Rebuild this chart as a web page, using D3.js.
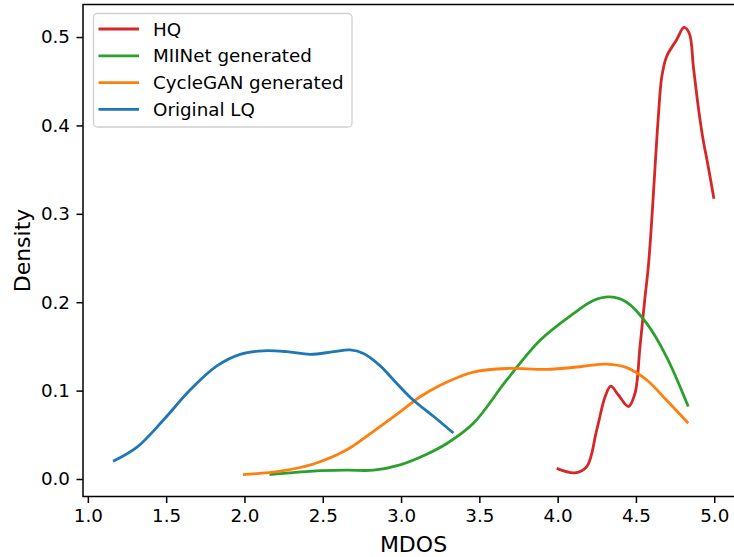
<!DOCTYPE html>
<html>
<head>
<meta charset="utf-8">
<script src="https://cdn.jsdelivr.net/npm/d3@7"></script>
<style>
  body { margin: 0; background: #fff; overflow: hidden; }
  text { font-family: "DejaVu Sans", sans-serif; fill: #000; }
</style>
</head>
<body>
<div id="chart"></div>
<script>
// density curves: [MDOS, density]
const hq = [[3.994,0.012],[4.111,0.007],[4.186,0.014],[4.249,0.055],[4.303,0.093],[4.339,0.105],[4.388,0.095],[4.452,0.082],[4.494,0.097],[4.526,0.150],[4.558,0.206],[4.579,0.240],[4.601,0.293],[4.622,0.353],[4.643,0.410],[4.665,0.455],[4.696,0.478],[4.760,0.497],[4.807,0.511],[4.841,0.504],[4.867,0.466],[4.898,0.421],[4.926,0.387],[4.962,0.353],[4.998,0.317]];
const miinet = [[2.160,0.005],[2.441,0.009],[2.654,0.010],[2.824,0.010],[2.994,0.016],[3.164,0.028],[3.300,0.041],[3.462,0.063],[3.675,0.112],[3.888,0.157],[4.100,0.187],[4.228,0.202],[4.335,0.206],[4.441,0.200],[4.569,0.176],[4.696,0.138],[4.834,0.082]];
const cyclegan = [[1.990,0.005],[2.229,0.009],[2.441,0.017],[2.654,0.033],[2.824,0.054],[2.994,0.076],[3.122,0.093],[3.250,0.106],[3.377,0.116],[3.462,0.121],[3.675,0.125],[3.930,0.124],[4.143,0.127],[4.313,0.130],[4.441,0.126],[4.569,0.112],[4.696,0.089],[4.834,0.063]];
const originalLq = [[1.161,0.020],[1.314,0.036],[1.484,0.067],[1.654,0.101],[1.824,0.128],[1.973,0.141],[2.122,0.145],[2.271,0.144],[2.420,0.141],[2.569,0.144],[2.675,0.146],[2.760,0.142],[2.867,0.128],[2.973,0.108],[3.079,0.089],[3.207,0.071],[3.334,0.052]];

const seriesNames = ["HQ", "MIINet generated", "CycleGAN generated", "Original LQ"];
const seriesColors = ["#d62728", "#2ca02c", "#ff7f0e", "#1f77b4"];
const xTicks = [1.0, 1.5, 2.0, 2.5, 3.0, 3.5, 4.0, 4.5, 5.0];
const yTicks = [0.0, 0.1, 0.2, 0.3, 0.4, 0.5];

class DensityChart {
    constructor(option) {
        for (let [key, value] of Object.entries(option)) {
            this[key] = value;
        }
        // the axes run past the right edge of the picture (right spine is cut off)
        this.margin = {left: 83, top: 4.5, right: -10, bottom: 60.5};
        this.gWidth = this.width - this.margin.left - this.margin.right;
        this.gHeight = this.height - this.margin.top - this.margin.bottom;
        this.createSvg();
        this.createAxes();
        this.createLines();
        this.createLegend();
    }
    createSvg() {
        this.svg = d3.select(this.ele)
            .append('svg')
            .attr('width', this.width)
            .attr('height', this.height)
            .style('display', 'block');
        this.g = this.svg.append('g')
            .attr('transform', `translate(${this.margin.left},${this.margin.top})`);
    }
    createAxes() {
        this.x = d3.scaleLinear().domain([0.969, 5.19]).range([0, this.gWidth]);
        this.y = d3.scaleLinear().domain([-0.0198, 0.5368]).range([this.gHeight, 0]);

        const xAxis = d3.axisBottom(this.x).tickValues(xTicks).tickFormat(d3.format('.1f'))
            .tickSize(6.5).tickPadding(6.5);
        const yAxis = d3.axisLeft(this.y).tickValues(yTicks).tickFormat(d3.format('.1f'))
            .tickSize(6.5).tickPadding(6.5);

        const gx = this.g.append('g')
            .attr('transform', `translate(0,${this.gHeight})`)
            .call(xAxis);
        const gy = this.g.append('g').call(yAxis);
        [gx, gy].forEach(a => {
            a.select('.domain').remove();
            a.selectAll('line').attr('stroke', '#000').attr('stroke-width', 1.5);
            a.selectAll('text').style('font-size', '18.3px').style('font-family', '"DejaVu Sans", sans-serif');
        });

        // frame
        this.g.append('rect')
            .attr('width', this.gWidth).attr('height', this.gHeight)
            .attr('fill', 'none').attr('stroke', '#000').attr('stroke-width', 1.5);

        this.svg.append('text')
            .attr('x', this.margin.left + this.gWidth / 2).attr('y', 551.5)
            .attr('text-anchor', 'middle').style('font-size', '22px')
            .text('MDOS');
        this.svg.append('text')
            .attr('transform', `translate(29.5,${this.margin.top + this.gHeight / 2}) rotate(-90)`)
            .attr('text-anchor', 'middle').style('font-size', '22px')
            .text('Density');
    }
    createLines() {
        const _this = this;
        const line = d3.line()
            .x(d => _this.x(d[0]))
            .y(d => _this.y(d[1]))
            .curve(d3.curveCatmullRom.alpha(0.5));
        this.data.forEach((s, i) => {
            this.g.append('path')
                .datum(s)
                .attr('d', line)
                .attr('fill', 'none')
                .attr('stroke', seriesColors[i])
                .attr('stroke-width', 2.8);
        });
    }
    createLegend() {
        const lg = this.svg.append('g');
        lg.append('rect')
            .attr('x', 93.5).attr('y', 13.5).attr('width', 258.5).attr('height', 113.5)
            .attr('rx', 4).attr('fill', '#fff').attr('fill-opacity', 0.8)
            .attr('stroke', '#d0d0d0').attr('stroke-width', 1.3);
        seriesNames.forEach((name, i) => {
            const yy = 29 + i * 26.8;
            lg.append('line')
                .attr('x1', 98.5).attr('x2', 139).attr('y1', yy).attr('y2', yy)
                .attr('stroke', seriesColors[i]).attr('stroke-width', 2.8);
            lg.append('text')
                .attr('x', 153).attr('y', yy).attr('dy', '0.36em')
                .style('font-size', '18.3px')
                .text(name);
        });
    }
}

new DensityChart({
    ele: document.getElementById('chart'),
    width: 734,
    height: 557,
    data: [hq, miinet, cyclegan, originalLq]
});
</script>
</body>
</html>
